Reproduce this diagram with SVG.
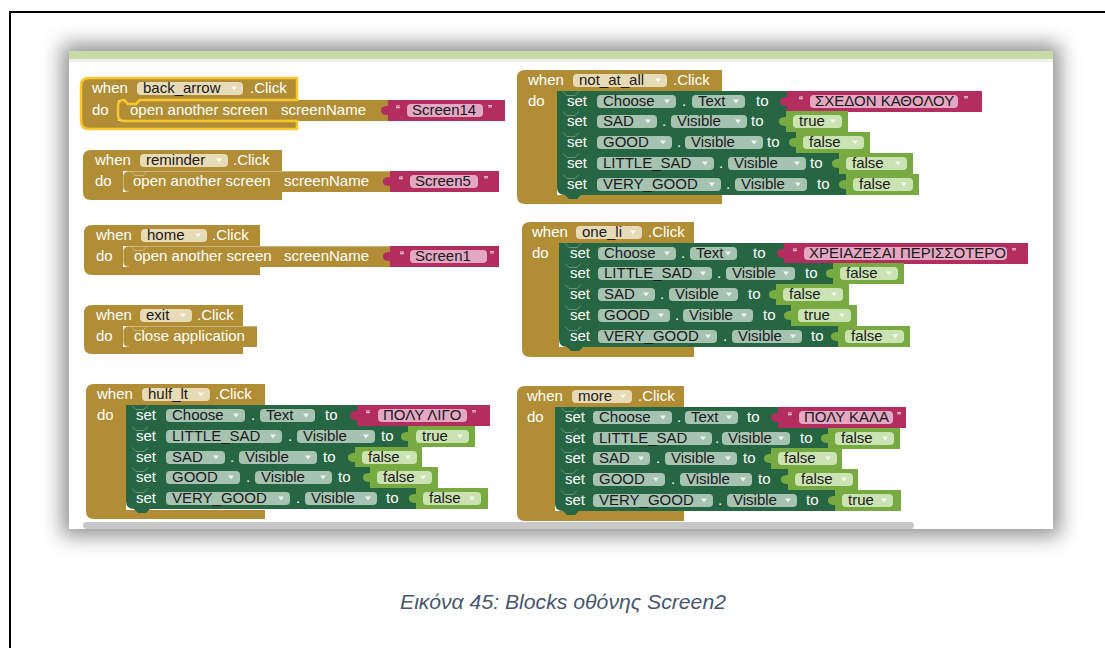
<svg xmlns="http://www.w3.org/2000/svg" xmlns:xlink="http://www.w3.org/1999/xlink" width="1105" height="648" viewBox="0 0 1105 648">
<style>
.k{font-family:"Liberation Sans",Arial,sans-serif;font-size:15px;fill:#fff}
.f{font-family:"Liberation Sans",Arial,sans-serif;font-size:15px;fill:#1a1a1a}
.q{font-family:"Liberation Sans",Arial,sans-serif;font-size:12px;fill:#fff}
.ev{fill:#B18E35}
.evf{fill:#E7DAB6}
.st{fill:#266643}
.stf{fill:#A6C3B2}
.lg{fill:#77AB41}
.lgf{fill:#CBE3B3}
.tx{fill:#B32D5E}
.txf{fill:#E4A8C2}
.arw{fill:#fff;opacity:.8}
.edge{fill:none;stroke:#fff;stroke-opacity:.35;stroke-width:1}
.nt{fill:none;stroke:#fff;stroke-opacity:.3;stroke-width:1}
.sel{fill:none;stroke:#F9C630;stroke-width:2.5}
.cap{font-family:"Liberation Sans",Arial,sans-serif;font-size:21px;font-style:italic;fill:#46566F}
</style>
<defs>
<path id="dd" d="M0 0h6l-3 4z" class="arw"/>
<filter id="shadow" x="-10%" y="-20%" width="120%" height="140%">
<feGaussianBlur stdDeviation="10"/>
</filter>
</defs>

<!-- page frame -->
<rect x="10" y="12" width="1120" height="660" fill="none" stroke="#000" stroke-width="2"/>

<!-- workspace panel with soft shadow -->
<g id="panel">
<rect x="62" y="44" width="998" height="492" fill="#6a6a6a" opacity="0.75" filter="url(#shadow)"/>
<rect x="69" y="51" width="984" height="478" fill="#fff"/>
<rect x="69" y="51" width="984" height="8" fill="#C9DAA6"/>
<rect x="69" y="59" width="984" height="3" fill="#EFEFEB"/>
<rect x="83" y="522" width="831" height="7" rx="3.5" fill="#C8C8C8"/>
</g>

<!-- when back_arrow.Click (selected) -->
<g id="b-back">
<path class="ev" d="M89 78H297V100H118V121H297V129H89Q81 129 81 121V86Q81 78 89 78Z"/>
<text class="k" x="92" y="93">when</text>
<rect class="evf" x="137" y="82" width="106" height="13" rx="4"/>
<text class="f" x="143" y="93">back_arrow</text>
<use href="#dd" x="231" y="86.5"/>
<text class="k" x="250" y="93">.Click</text>
<text class="k" x="92" y="115">do</text>
<path class="ev" d="M124 100H388V121H124Q118 121 118 115V106Q118 100 124 100Z"/>
<path class="tx" d="M388 100H505V121H388V115c-4 0-7-1-7-4.5s3-4.5 7-4.5Z"/>
<text class="k" x="130" y="115">open another screen</text>
<text class="k" x="281" y="115">screenName</text>
<text class="q" x="396" y="114">“</text>
<rect class="txf" x="407" y="104" width="76" height="13" rx="4"/>
<text class="f" x="412" y="115">Screen14</text>
<text class="q" x="488" y="114">”</text>
<path class="sel" d="M89 78H297V100H140l-4 4h-8l-4-4Q118 100 118 106V115Q118 121 124 121H297V129H89Q81 129 81 121V86Q81 78 89 78Z"/>
</g>

<!-- when reminder.Click -->
<g id="b-reminder">
<path class="ev" d="M91 150H282V171H123V192H282V200H91Q83 200 83 192V158Q83 150 91 150Z"/>
<text class="k" x="95" y="165">when</text>
<rect class="evf" x="140" y="154" width="88" height="13" rx="4"/>
<text class="f" x="146" y="165">reminder</text>
<use href="#dd" x="216" y="158.5"/>
<text class="k" x="233" y="165">.Click</text>
<text class="k" x="95" y="186">do</text>
<path class="ev" d="M129 171H390V192H129Q123 192 123 186V177Q123 171 129 171Z"/>
<path class="edge" d="M390 171.5H129Q123.5 171.5 123.5 177V186Q123.5 191.5 129 191.5M131 171.5l4 4h8l4-4"/>
<path class="tx" d="M390 171H499V192H390V186c-4 0-7-1-7-4.5s3-4.5 7-4.5Z"/>
<text class="k" x="133" y="186">open another screen</text>
<text class="k" x="284" y="186">screenName</text>
<text class="q" x="399" y="185">“</text>
<rect class="txf" x="410" y="175" width="68" height="13" rx="4"/>
<text class="f" x="415" y="186">Screen5</text>
<text class="q" x="484" y="185">”</text>
</g>

<!-- when home.Click -->
<g id="b-home">
<path class="ev" d="M92 225H260V246H123V267H260V275H92Q84 275 84 267V233Q84 225 92 225Z"/>
<text class="k" x="96" y="240">when</text>
<rect class="evf" x="141" y="229" width="66" height="13" rx="4"/>
<text class="f" x="147" y="240">home</text>
<use href="#dd" x="195" y="233.5"/>
<text class="k" x="212" y="240">.Click</text>
<text class="k" x="96" y="261">do</text>
<path class="ev" d="M129 246H390V267H129Q123 267 123 261V252Q123 246 129 246Z"/>
<path class="edge" d="M390 246.5H129Q123.5 246.5 123.5 252V261Q123.5 266.5 129 266.5M131 246.5l4 4h8l4-4"/>
<path class="tx" d="M390 246H499V267H390V261c-4 0-7-1-7-4.5s3-4.5 7-4.5Z"/>
<text class="k" x="134" y="261">open another screen</text>
<text class="k" x="284" y="261">screenName</text>
<text class="q" x="400" y="260">“</text>
<rect class="txf" x="410" y="250" width="77" height="13" rx="4"/>
<text class="f" x="415" y="261">Screen1</text>
<text class="q" x="490" y="260">”</text>
</g>

<!-- when exit.Click -->
<g id="b-exit">
<path class="ev" d="M92 305H243V326H123V347H243V354H92Q84 354 84 346V313Q84 305 92 305Z"/>
<text class="k" x="96" y="320">when</text>
<rect class="evf" x="140" y="309" width="52" height="13" rx="4"/>
<text class="f" x="146" y="320">exit</text>
<use href="#dd" x="180" y="313.5"/>
<text class="k" x="197" y="320">.Click</text>
<text class="k" x="96" y="341">do</text>
<path class="ev" d="M129 326H257V347H129Q123 347 123 341V332Q123 326 129 326Z"/>
<path class="edge" d="M257 326.5H129Q123.5 326.5 123.5 332V341Q123.5 346.5 129 346.5M131 326.5l4 4h8l4-4"/>
<text class="k" x="134" y="341">close application</text>
</g>

<!-- when hulf_lt.Click -->
<g id="b-hulf">
<path class="ev" d="M94 384H265V405H126V510H265V519H94Q86 519 86 511V392Q86 384 94 384Z"/>
<text class="k" x="97" y="399">when</text>
<rect class="evf" x="142" y="388" width="68" height="13" rx="4"/>
<text class="f" x="148" y="399">hulf_lt</text>
<use href="#dd" x="198" y="392.5"/>
<text class="k" x="215" y="399">.Click</text>
<text class="k" x="97" y="420">do</text>
<!-- row 1 -->
<rect class="st" x="126" y="405" width="231" height="21"/>
<path class="nt" d="M132 405.5l4 4h8l4-4"/>
<text class="k" x="136" y="420">set</text>
<rect class="stf" x="166" y="409" width="79" height="13" rx="4"/>
<text class="f" x="172" y="420">Choose</text>
<use href="#dd" x="233" y="413.5"/>
<text class="k" x="251" y="420">.</text>
<rect class="stf" x="260" y="409" width="55" height="13" rx="4"/>
<text class="f" x="266" y="420">Text</text>
<use href="#dd" x="303" y="413.5"/>
<text class="k" x="325" y="420">to</text>
<path class="tx" d="M357 405H490V426H357V420c-4 0-7-1-7-4.5s3-4.5 7-4.5Z"/>
<text class="q" x="366" y="419">“</text>
<rect class="txf" x="378" y="409" width="89" height="13" rx="4"/>
<text class="f" x="383" y="420">ΠΟΛΥ ΛΙΓΟ</text>
<text class="q" x="472" y="419">”</text>
<!-- row 2 -->
<rect class="st" x="126" y="426" width="282" height="21"/>
<path class="nt" d="M132 426.5l4 4h8l4-4"/>
<text class="k" x="136" y="441">set</text>
<rect class="stf" x="166" y="430" width="116" height="13" rx="4"/>
<text class="f" x="172" y="441">LITTLE_SAD</text>
<use href="#dd" x="270" y="434.5"/>
<text class="k" x="288" y="441">.</text>
<rect class="stf" x="297" y="430" width="78" height="13" rx="4"/>
<text class="f" x="303" y="441">Visible</text>
<use href="#dd" x="363" y="434.5"/>
<text class="k" x="381" y="441">to</text>
<path class="lg" d="M408 426H475V447H408V441c-4 0-7-1-7-4.5s3-4.5 7-4.5Z"/>
<rect class="lgf" x="416" y="430" width="53" height="13" rx="4"/>
<text class="f" x="422" y="441">true</text>
<use href="#dd" x="457" y="434.5"/>
<!-- row 3 -->
<rect class="st" x="126" y="447" width="229" height="21"/>
<path class="nt" d="M132 447.5l4 4h8l4-4"/>
<text class="k" x="136" y="462">set</text>
<rect class="stf" x="166" y="451" width="59" height="13" rx="4"/>
<text class="f" x="172" y="462">SAD</text>
<use href="#dd" x="213" y="455.5"/>
<text class="k" x="230" y="462">.</text>
<rect class="stf" x="239" y="451" width="78" height="13" rx="4"/>
<text class="f" x="245" y="462">Visible</text>
<use href="#dd" x="305" y="455.5"/>
<text class="k" x="323" y="462">to</text>
<path class="lg" d="M355 447H422V468H355V462c-4 0-7-1-7-4.5s3-4.5 7-4.5Z"/>
<rect class="lgf" x="362" y="451" width="55" height="13" rx="4"/>
<text class="f" x="368" y="462">false</text>
<use href="#dd" x="405" y="455.5"/>
<!-- row 4 -->
<rect class="st" x="126" y="467" width="244" height="21"/>
<path class="nt" d="M132 467.5l4 4h8l4-4"/>
<text class="k" x="136" y="482">set</text>
<rect class="stf" x="166" y="471" width="74" height="13" rx="4"/>
<text class="f" x="172" y="482">GOOD</text>
<use href="#dd" x="228" y="475.5"/>
<text class="k" x="246" y="482">.</text>
<rect class="stf" x="255" y="471" width="77" height="13" rx="4"/>
<text class="f" x="261" y="482">Visible</text>
<use href="#dd" x="320" y="475.5"/>
<text class="k" x="338" y="482">to</text>
<path class="lg" d="M370 467H438V488H370V482c-4 0-7-1-7-4.5s3-4.5 7-4.5Z"/>
<rect class="lgf" x="377" y="471" width="55" height="13" rx="4"/>
<text class="f" x="383" y="482">false</text>
<use href="#dd" x="420" y="475.5"/>
<!-- row 5 -->
<path class="st" d="M126 488H416V509H134Q126 509 126 501Z"/>
<path class="st" d="M134 509l4 4h8l4-4Z"/>
<path class="nt" d="M132 488.5l4 4h8l4-4"/>
<text class="k" x="136" y="503">set</text>
<rect class="stf" x="166" y="492" width="124" height="13" rx="4"/>
<text class="f" x="172" y="503">VERY_GOOD</text>
<use href="#dd" x="278" y="496.5"/>
<text class="k" x="296" y="503">.</text>
<rect class="stf" x="305" y="492" width="72" height="13" rx="4"/>
<text class="f" x="311" y="503">Visible</text>
<use href="#dd" x="365" y="496.5"/>
<text class="k" x="386" y="503">to</text>
<path class="lg" d="M416 488H488V509H416V503c-4 0-7-1-7-4.5s3-4.5 7-4.5Z"/>
<rect class="lgf" x="423" y="492" width="58" height="13" rx="4"/>
<text class="f" x="429" y="503">false</text>
<use href="#dd" x="469" y="496.5"/>
</g>

<!-- when not_at_all.Click -->
<g id="b-not">
<path class="ev" d="M525 70H722V91H557V195H722V204H525Q517 204 517 196V78Q517 70 525 70Z"/>
<text class="k" x="528" y="85">when</text>
<rect class="evf" x="573" y="74" width="94" height="13" rx="4"/>
<text class="f" x="579" y="85">not_at_all</text>
<use href="#dd" x="655" y="78.5"/>
<text class="k" x="673" y="85">.Click</text>
<text class="k" x="528" y="106">do</text>
<!-- row 1 -->
<rect class="st" x="557" y="91" width="230" height="21"/>
<path class="nt" d="M563 91.5l4 4h8l4-4"/>
<text class="k" x="567" y="106">set</text>
<rect class="stf" x="597" y="95" width="79" height="13" rx="4"/>
<text class="f" x="603" y="106">Choose</text>
<use href="#dd" x="664" y="99.5"/>
<text class="k" x="682" y="106">.</text>
<rect class="stf" x="692" y="95" width="53" height="13" rx="4"/>
<text class="f" x="698" y="106">Text</text>
<use href="#dd" x="733" y="99.5"/>
<text class="k" x="756" y="106">to</text>
<path class="tx" d="M787 91H982V112H787V106c-4 0-7-1-7-4.5s3-4.5 7-4.5Z"/>
<text class="q" x="799" y="105">“</text>
<rect class="txf" x="810" y="95" width="148" height="13" rx="4"/>
<text class="f" x="815" y="106">ΣΧΕΔΟΝ ΚΑΘΟΛΟΥ</text>
<text class="q" x="964" y="105">”</text>
<!-- row 2 -->
<rect class="st" x="557" y="111" width="229" height="21"/>
<path class="nt" d="M563 111.5l4 4h8l4-4"/>
<text class="k" x="567" y="126">set</text>
<rect class="stf" x="597" y="115" width="60" height="13" rx="4"/>
<text class="f" x="603" y="126">SAD</text>
<use href="#dd" x="645" y="119.5"/>
<text class="k" x="662" y="126">.</text>
<rect class="stf" x="671" y="115" width="76" height="13" rx="4"/>
<text class="f" x="677" y="126">Visible</text>
<use href="#dd" x="735" y="119.5"/>
<text class="k" x="751" y="126">to</text>
<path class="lg" d="M786 111H848V132H786V126c-4 0-7-1-7-4.5s3-4.5 7-4.5Z"/>
<rect class="lgf" x="793" y="115" width="49" height="13" rx="4"/>
<text class="f" x="799" y="126">true</text>
<use href="#dd" x="830" y="119.5"/>
<!-- row 3 -->
<rect class="st" x="557" y="132" width="239" height="21"/>
<path class="nt" d="M563 132.5l4 4h8l4-4"/>
<text class="k" x="567" y="147">set</text>
<rect class="stf" x="597" y="136" width="75" height="13" rx="4"/>
<text class="f" x="603" y="147">GOOD</text>
<use href="#dd" x="660" y="140.5"/>
<text class="k" x="677" y="147">.</text>
<rect class="stf" x="685" y="136" width="78" height="13" rx="4"/>
<text class="f" x="691" y="147">Visible</text>
<use href="#dd" x="751" y="140.5"/>
<text class="k" x="767" y="147">to</text>
<path class="lg" d="M796 132H870V153H796V147c-4 0-7-1-7-4.5s3-4.5 7-4.5Z"/>
<rect class="lgf" x="803" y="136" width="61" height="13" rx="4"/>
<text class="f" x="809" y="147">false</text>
<use href="#dd" x="852" y="140.5"/>
<!-- row 4 -->
<rect class="st" x="557" y="153" width="282" height="21"/>
<path class="nt" d="M563 153.5l4 4h8l4-4"/>
<text class="k" x="567" y="168">set</text>
<rect class="stf" x="597" y="157" width="117" height="13" rx="4"/>
<text class="f" x="603" y="168">LITTLE_SAD</text>
<use href="#dd" x="702" y="161.5"/>
<text class="k" x="719" y="168">.</text>
<rect class="stf" x="728" y="157" width="78" height="13" rx="4"/>
<text class="f" x="734" y="168">Visible</text>
<use href="#dd" x="794" y="161.5"/>
<text class="k" x="810" y="168">to</text>
<path class="lg" d="M839 153H913V174H839V168c-4 0-7-1-7-4.5s3-4.5 7-4.5Z"/>
<rect class="lgf" x="846" y="157" width="61" height="13" rx="4"/>
<text class="f" x="852" y="168">false</text>
<use href="#dd" x="895" y="161.5"/>
<!-- row 5 -->
<path class="st" d="M557 174H846V195H565Q557 195 557 187Z"/>
<path class="st" d="M565 195l4 4h8l4-4Z"/>
<path class="nt" d="M563 174.5l4 4h8l4-4"/>
<text class="k" x="567" y="189">set</text>
<rect class="stf" x="597" y="178" width="124" height="13" rx="4"/>
<text class="f" x="603" y="189">VERY_GOOD</text>
<use href="#dd" x="709" y="182.5"/>
<text class="k" x="726" y="189">.</text>
<rect class="stf" x="735" y="178" width="72" height="13" rx="4"/>
<text class="f" x="741" y="189">Visible</text>
<use href="#dd" x="795" y="182.5"/>
<text class="k" x="817" y="189">to</text>
<path class="lg" d="M846 174H919V195H846V189c-4 0-7-1-7-4.5s3-4.5 7-4.5Z"/>
<rect class="lgf" x="853" y="178" width="60" height="13" rx="4"/>
<text class="f" x="859" y="189">false</text>
<use href="#dd" x="901" y="182.5"/>
</g>

<!-- when one_li.Click -->
<g id="b-one">
<path class="ev" d="M530 222H694V243H559V347H694V357H530Q522 357 522 349V230Q522 222 530 222Z"/>
<text class="k" x="532" y="237">when</text>
<rect class="evf" x="576" y="226" width="66" height="13" rx="4"/>
<text class="f" x="582" y="237">one_li</text>
<use href="#dd" x="630" y="230.5"/>
<text class="k" x="648" y="237">.Click</text>
<text class="k" x="532" y="258">do</text>
<!-- row 1 -->
<rect class="st" x="559" y="243" width="225" height="21"/>
<path class="nt" d="M565 243.5l4 4h8l4-4"/>
<text class="k" x="570" y="258">set</text>
<rect class="stf" x="598" y="247" width="78" height="13" rx="4"/>
<text class="f" x="604" y="258">Choose</text>
<use href="#dd" x="664" y="251.5"/>
<text class="k" x="681" y="258">.</text>
<rect class="stf" x="690" y="247" width="47" height="13" rx="4"/>
<text class="f" x="696" y="258">Text</text>
<use href="#dd" x="725" y="251.5"/>
<text class="k" x="753" y="258">to</text>
<path class="tx" d="M784 243H1028V264H784V258c-4 0-7-1-7-4.5s3-4.5 7-4.5Z"/>
<text class="q" x="793" y="257">“</text>
<rect class="txf" x="804" y="247" width="203" height="13" rx="4"/>
<text class="f" x="809" y="258">ΧΡΕΙΑΖΕΣΑΙ ΠΕΡΙΣΣΟΤΕΡΟ</text>
<text class="q" x="1012" y="257">”</text>
<!-- row 2 -->
<rect class="st" x="559" y="263" width="274" height="21"/>
<path class="nt" d="M565 263.5l4 4h8l4-4"/>
<text class="k" x="570" y="278">set</text>
<rect class="stf" x="598" y="267" width="114" height="13" rx="4"/>
<text class="f" x="604" y="278">LITTLE_SAD</text>
<use href="#dd" x="700" y="271.5"/>
<text class="k" x="717" y="278">.</text>
<rect class="stf" x="726" y="267" width="69" height="13" rx="4"/>
<text class="f" x="732" y="278">Visible</text>
<use href="#dd" x="783" y="271.5"/>
<text class="k" x="805" y="278">to</text>
<path class="lg" d="M833 263H904V284H833V278c-4 0-7-1-7-4.5s3-4.5 7-4.5Z"/>
<rect class="lgf" x="840" y="267" width="58" height="13" rx="4"/>
<text class="f" x="846" y="278">false</text>
<use href="#dd" x="886" y="271.5"/>
<!-- row 3 -->
<rect class="st" x="559" y="284" width="217" height="21"/>
<path class="nt" d="M565 284.5l4 4h8l4-4"/>
<text class="k" x="570" y="299">set</text>
<rect class="stf" x="598" y="288" width="57" height="13" rx="4"/>
<text class="f" x="604" y="299">SAD</text>
<use href="#dd" x="643" y="292.5"/>
<text class="k" x="660" y="299">.</text>
<rect class="stf" x="669" y="288" width="69" height="13" rx="4"/>
<text class="f" x="675" y="299">Visible</text>
<use href="#dd" x="726" y="292.5"/>
<text class="k" x="748" y="299">to</text>
<path class="lg" d="M776 284H849V305H776V299c-4 0-7-1-7-4.5s3-4.5 7-4.5Z"/>
<rect class="lgf" x="783" y="288" width="60" height="13" rx="4"/>
<text class="f" x="789" y="299">false</text>
<use href="#dd" x="831" y="292.5"/>
<!-- row 4 -->
<rect class="st" x="559" y="305" width="232" height="21"/>
<path class="nt" d="M565 305.5l4 4h8l4-4"/>
<text class="k" x="570" y="320">set</text>
<rect class="stf" x="598" y="309" width="72" height="13" rx="4"/>
<text class="f" x="604" y="320">GOOD</text>
<use href="#dd" x="658" y="313.5"/>
<text class="k" x="675" y="320">.</text>
<rect class="stf" x="683" y="309" width="70" height="13" rx="4"/>
<text class="f" x="689" y="320">Visible</text>
<use href="#dd" x="741" y="313.5"/>
<text class="k" x="763" y="320">to</text>
<path class="lg" d="M791 305H857V326H791V320c-4 0-7-1-7-4.5s3-4.5 7-4.5Z"/>
<rect class="lgf" x="798" y="309" width="53" height="13" rx="4"/>
<text class="f" x="804" y="320">true</text>
<use href="#dd" x="839" y="313.5"/>
<!-- row 5 -->
<path class="st" d="M559 326H838V347H567Q559 347 559 339Z"/>
<path class="st" d="M567 347l4 4h8l4-4Z"/>
<path class="nt" d="M565 326.5l4 4h8l4-4"/>
<text class="k" x="570" y="341">set</text>
<rect class="stf" x="598" y="330" width="119" height="13" rx="4"/>
<text class="f" x="604" y="341">VERY_GOOD</text>
<use href="#dd" x="705" y="334.5"/>
<text class="k" x="723" y="341">.</text>
<rect class="stf" x="732" y="330" width="70" height="13" rx="4"/>
<text class="f" x="738" y="341">Visible</text>
<use href="#dd" x="790" y="334.5"/>
<text class="k" x="811" y="341">to</text>
<path class="lg" d="M838 326H910V347H838V341c-4 0-7-1-7-4.5s3-4.5 7-4.5Z"/>
<rect class="lgf" x="845" y="330" width="59" height="13" rx="4"/>
<text class="f" x="851" y="341">false</text>
<use href="#dd" x="892" y="334.5"/>
</g>

<!-- when more.Click -->
<g id="b-more">
<path class="ev" d="M525 386H684V407H555V511H684V521H525Q517 521 517 513V394Q517 386 525 386Z"/>
<text class="k" x="527" y="401">when</text>
<rect class="evf" x="572" y="390" width="60" height="13" rx="4"/>
<text class="f" x="578" y="401">more</text>
<use href="#dd" x="620" y="394.5"/>
<text class="k" x="638" y="401">.Click</text>
<text class="k" x="527" y="422">do</text>
<!-- row 1 -->
<rect class="st" x="555" y="407" width="223" height="21"/>
<path class="nt" d="M561 407.5l4 4h8l4-4"/>
<text class="k" x="565" y="422">set</text>
<rect class="stf" x="593" y="411" width="79" height="13" rx="4"/>
<text class="f" x="599" y="422">Choose</text>
<use href="#dd" x="660" y="415.5"/>
<text class="k" x="677" y="422">.</text>
<rect class="stf" x="685" y="411" width="53" height="13" rx="4"/>
<text class="f" x="691" y="422">Text</text>
<use href="#dd" x="726" y="415.5"/>
<text class="k" x="747" y="422">to</text>
<path class="tx" d="M778 407H906V428H778V422c-4 0-7-1-7-4.5s3-4.5 7-4.5Z"/>
<text class="q" x="788" y="421">“</text>
<rect class="txf" x="799" y="411" width="94" height="13" rx="4"/>
<text class="f" x="804" y="422">ΠΟΛΥ ΚΑΛΑ</text>
<text class="q" x="897" y="421">”</text>
<!-- row 2 -->
<rect class="st" x="555" y="428" width="273" height="21"/>
<path class="nt" d="M561 428.5l4 4h8l4-4"/>
<text class="k" x="565" y="443">set</text>
<rect class="stf" x="593" y="432" width="119" height="13" rx="4"/>
<text class="f" x="599" y="443">LITTLE_SAD</text>
<use href="#dd" x="700" y="436.5"/>
<text class="k" x="715" y="443">.</text>
<rect class="stf" x="722" y="432" width="68" height="13" rx="4"/>
<text class="f" x="728" y="443">Visible</text>
<use href="#dd" x="778" y="436.5"/>
<text class="k" x="800" y="443">to</text>
<path class="lg" d="M828 428H900V449H828V443c-4 0-7-1-7-4.5s3-4.5 7-4.5Z"/>
<rect class="lgf" x="835" y="432" width="59" height="13" rx="4"/>
<text class="f" x="841" y="443">false</text>
<use href="#dd" x="882" y="436.5"/>
<!-- row 3 -->
<rect class="st" x="555" y="448" width="216" height="21"/>
<path class="nt" d="M561 448.5l4 4h8l4-4"/>
<text class="k" x="565" y="463">set</text>
<rect class="stf" x="593" y="452" width="57" height="13" rx="4"/>
<text class="f" x="599" y="463">SAD</text>
<use href="#dd" x="638" y="456.5"/>
<text class="k" x="656" y="463">.</text>
<rect class="stf" x="665" y="452" width="72" height="13" rx="4"/>
<text class="f" x="671" y="463">Visible</text>
<use href="#dd" x="725" y="456.5"/>
<text class="k" x="743" y="463">to</text>
<path class="lg" d="M771 448H842V469H771V463c-4 0-7-1-7-4.5s3-4.5 7-4.5Z"/>
<rect class="lgf" x="778" y="452" width="59" height="13" rx="4"/>
<text class="f" x="784" y="463">false</text>
<use href="#dd" x="825" y="456.5"/>
<!-- row 4 -->
<rect class="st" x="555" y="469" width="233" height="21"/>
<path class="nt" d="M561 469.5l4 4h8l4-4"/>
<text class="k" x="565" y="484">set</text>
<rect class="stf" x="593" y="473" width="72" height="13" rx="4"/>
<text class="f" x="599" y="484">GOOD</text>
<use href="#dd" x="653" y="477.5"/>
<text class="k" x="671" y="484">.</text>
<rect class="stf" x="680" y="473" width="72" height="13" rx="4"/>
<text class="f" x="686" y="484">Visible</text>
<use href="#dd" x="740" y="477.5"/>
<text class="k" x="758" y="484">to</text>
<path class="lg" d="M788 469H858V490H788V484c-4 0-7-1-7-4.5s3-4.5 7-4.5Z"/>
<rect class="lgf" x="795" y="473" width="58" height="13" rx="4"/>
<text class="f" x="801" y="484">false</text>
<use href="#dd" x="841" y="477.5"/>
<!-- row 5 -->
<path class="st" d="M555 490H835V511H563Q555 511 555 503Z"/>
<path class="st" d="M563 511l4 4h8l4-4Z"/>
<path class="nt" d="M561 490.5l4 4h8l4-4"/>
<text class="k" x="565" y="505">set</text>
<rect class="stf" x="593" y="494" width="120" height="13" rx="4"/>
<text class="f" x="599" y="505">VERY_GOOD</text>
<use href="#dd" x="701" y="498.5"/>
<text class="k" x="718" y="505">.</text>
<rect class="stf" x="727" y="494" width="70" height="13" rx="4"/>
<text class="f" x="733" y="505">Visible</text>
<use href="#dd" x="785" y="498.5"/>
<text class="k" x="806" y="505">to</text>
<path class="lg" d="M835 490H901V511H835V505c-4 0-7-1-7-4.5s3-4.5 7-4.5Z"/>
<rect class="lgf" x="842" y="494" width="51" height="13" rx="4"/>
<text class="f" x="848" y="505">true</text>
<use href="#dd" x="881" y="498.5"/>
</g>

<!-- figure caption -->
<text class="cap" x="563" y="609" text-anchor="middle" textLength="326" lengthAdjust="spacingAndGlyphs">Εικόνα 45: Blocks οθόνης Screen2</text>
</svg>
